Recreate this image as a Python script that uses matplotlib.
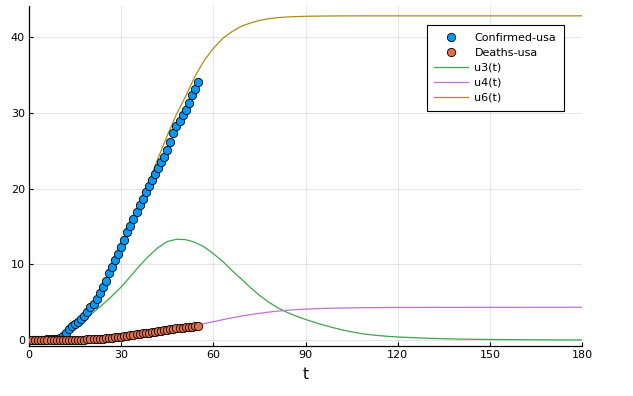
import matplotlib
matplotlib.use("Agg")
import matplotlib.pyplot as plt

# Observed data (days 0..55)
days = list(range(56))
confirmed = [0.0, 0.0, 0.0, 0.0, 0.0, 0.05, 0.1, 0.1, 0.1, 0.2,
             0.3, 0.5, 0.9, 1.4, 1.8, 2.1, 2.4, 2.8, 3.2, 3.7,
             4.3, 4.8, 5.4, 6.2, 7.0, 7.8, 8.8, 9.6, 10.5, 11.4,
             12.3, 13.2, 14.2, 15.1, 16.0, 16.9, 17.8, 18.6, 19.5, 20.3,
             21.1, 21.9, 22.7, 23.5, 24.2, 25.1, 26.1, 27.3, 28.2, 28.9,
             29.7, 30.4, 31.3, 32.3, 33.1, 34.1]
deaths = [0.0, 0.0, 0.0, 0.0, 0.0, 0.0, 0.0, 0.0, 0.0, 0.0,
          0.0, 0.0, 0.0, 0.0, 0.01, 0.01, 0.02, 0.03, 0.05, 0.07,
          0.09, 0.11, 0.14, 0.17, 0.2, 0.24, 0.28, 0.32, 0.37, 0.41,
          0.46, 0.51, 0.57, 0.63, 0.69, 0.75, 0.81, 0.87, 0.93, 0.99,
          1.05, 1.11, 1.17, 1.23, 1.29, 1.35, 1.41, 1.47, 1.53, 1.58,
          1.63, 1.68, 1.73, 1.78, 1.83, 1.88]

# Model solution samples
t_u3 = [0, 3, 6, 9, 12, 15, 18, 21, 24, 27, 30, 33, 36, 39, 42, 45, 48, 51, 54,
        57, 60, 63, 66, 69, 72, 75, 78, 81, 84, 87, 90, 93, 96, 99, 102, 105, 108,
        111, 114, 117, 120, 125, 130, 135, 140, 150, 160, 170, 180]
u3 = [0.1, 0.12, 0.2, 0.4, 0.9, 1.7, 2.65, 3.65, 4.7, 5.8, 7.0, 8.4, 9.8, 11.1,
      12.2, 13.0, 13.3, 13.25, 12.9, 12.3, 11.4, 10.4, 9.2, 8.1, 6.95, 5.9, 5.0,
      4.25, 3.65, 3.15, 2.72, 2.32, 1.96, 1.63, 1.33, 1.07, 0.86, 0.7, 0.58, 0.48,
      0.4, 0.31, 0.23, 0.17, 0.12, 0.07, 0.04, 0.02, 0.01]

t_u4 = [0, 10, 15, 20, 25, 30, 35, 40, 45, 50, 55, 60, 65, 70, 75, 80, 85, 90,
        95, 100, 110, 120, 130, 180]
u4 = [0.0, 0.01, 0.03, 0.09, 0.22, 0.45, 0.75, 1.05, 1.35, 1.65, 1.98, 2.42,
      2.85, 3.22, 3.53, 3.78, 3.96, 4.08, 4.16, 4.21, 4.27, 4.3, 4.31, 4.32]

t_u6 = [0, 3, 6, 9, 12, 15, 18, 21, 24, 27, 30, 33, 36, 39, 42, 45, 48, 51, 54,
        57, 60, 63, 66, 69, 72, 75, 78, 81, 84, 87, 90, 95, 100, 110, 180]
u6 = [0.1, 0.15, 0.25, 0.5, 1.0, 1.9, 3.2, 4.9, 6.9, 9.1, 11.7, 14.6, 17.7,
      20.8, 24.0, 27.0, 29.8, 32.2, 34.8, 36.9, 38.5, 39.8, 40.7, 41.4, 41.85,
      42.2, 42.42, 42.56, 42.65, 42.7, 42.74, 42.77, 42.79, 42.8, 42.8]

xticks = [0, 30, 60, 90, 120, 150, 180]
yticks = [0, 10, 20, 30, 40]

fig = plt.figure(figsize=(6.33, 3.96), dpi=100)
ax = fig.add_axes([29/633, 1-346/396, (582-29)/633, (346-6)/396])

ax.plot(t_u3, u3, color="#3EA44E", lw=0.9, label="u3(t)", zorder=2)
ax.plot(t_u4, u4, color="#C371D2", lw=0.9, label="u4(t)", zorder=2)
ax.plot(t_u6, u6, color="#AC8D18", lw=0.9, label="u6(t)", zorder=2)
ax.plot(days, confirmed, "o", color="#009AFA", mec="black", mew=0.6, ms=6,
        label="Confirmed-usa", zorder=3)
ax.plot(days, deaths, "o", color="#E36F47", mec="black", mew=0.6, ms=6,
        label="Deaths-usa", zorder=3)

ax.set_xlim(0, 180)
ax.set_ylim(-0.79, 44.1)
ax.set_xticks(xticks)
ax.set_yticks(yticks)
ax.grid(True, color="black", alpha=0.1, lw=0.8)
ax.set_axisbelow(True)
for s in ["top", "right"]:
    ax.spines[s].set_visible(False)
for s in ["left", "bottom"]:
    ax.spines[s].set_linewidth(0.9)
ax.tick_params(direction="in", length=3, width=0.8, labelsize=8, pad=3)
ax.set_xlabel("t", fontsize=11, labelpad=5)

handles, labels = ax.get_legend_handles_labels()
order = [3, 4, 0, 1, 2]
leg = ax.legend([handles[i] for i in order], [labels[i] for i in order],
                loc="upper right", bbox_to_anchor=(564/633, 1-25/396),
                bbox_transform=fig.transFigure, borderaxespad=0,
                fontsize=8, frameon=True,
                fancybox=False, edgecolor="black", framealpha=1,
                handlelength=3.0, borderpad=0.7, labelspacing=0.45,
                handletextpad=0.6)
leg.get_frame().set_linewidth(0.8)

fig.savefig("out.png", dpi=100)
